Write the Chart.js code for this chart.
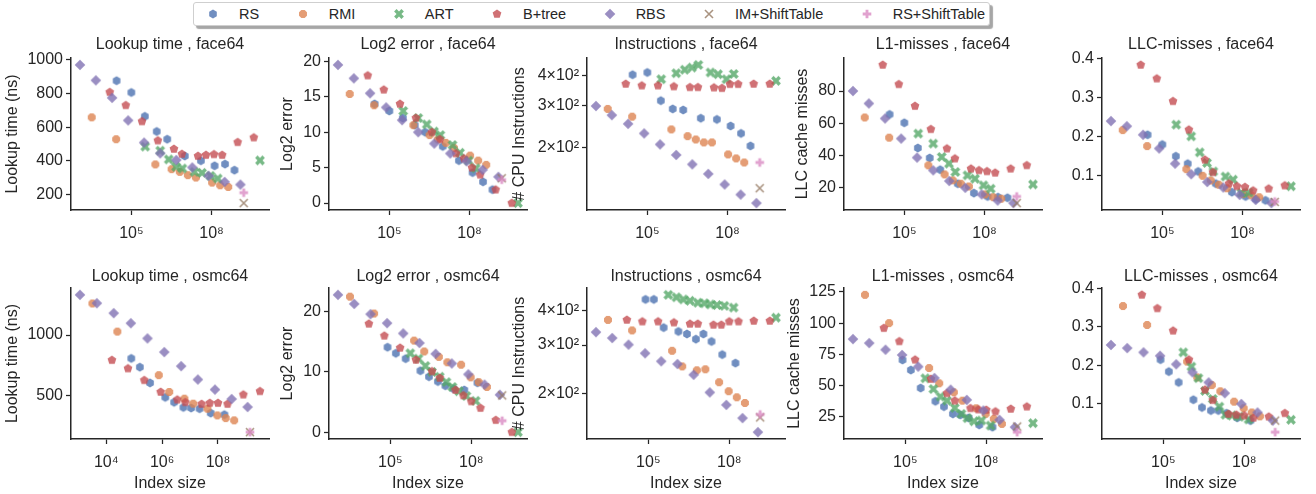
<!DOCTYPE html>
<html>
<head>
<meta charset="utf-8">
<script src="https://cdn.jsdelivr.net/npm/chart.js@4.4.0/dist/chart.umd.min.js"></script>
<style>
  body { margin: 0; width: 1316px; height: 494px; position: relative; overflow: hidden; background: #fff;
         font-family: "Liberation Sans", Arial, sans-serif; color: #262626; }
  canvas.panel { position: absolute; }
  #legend { position: absolute; left: 193px; top: 2px; height: 22px; display: flex; align-items: center;
            padding: 0 4px 0 9px; border: 1px solid #cfcfcf; border-radius: 3px; background: #fff;
            box-shadow: 3px 3px 1px rgba(0, 0, 0, 0.35); font-size: 14.5px; white-space: nowrap; }
  .item { display: flex; align-items: center; margin-right: 33.5px; }
  .item:last-child { margin-right: 0; }
  .mk { width: 20px; display: flex; justify-content: center; }
  .lbl { margin-left: 16px; }
</style>
</head>
<body>
<div id="legend"></div>
<script>
// series order everywhere: RS, RMI, ART, B+tree, RBS, IM+ShiftTable, RS+ShiftTable
const seriesNames = ['RS', 'RMI', 'ART', 'B+tree', 'RBS', 'IM+ShiftTable', 'RS+ShiftTable'];

// index sizes (x) per series
const face64X = [
  [2.8e4, 1e5, 3.2e5, 8.9e5, 2.2e6, 1e7, 4e7, 1.3e8, 3.2e8, 7.2e8],
  [3.3e3, 2.7e4, 7.9e5, 3.2e6, 6.5e6, 1.3e7, 2.6e7, 1.05e8, 2.1e8, 4.2e8],
  [3.3e5, 1.2e6, 2.5e6, 4.7e6, 8.1e6, 2.3e7, 4.4e7, 9.1e7, 1.7e8, 6.5e9],
  [1.55e4, 6.2e4, 2.5e5, 9.8e5, 3.9e6, 7.8e6, 3.1e7, 6.2e7, 1.23e8, 2.5e8, 9.5e8, 3.8e9],
  [1.2e3, 4.7e3, 1.9e4, 7.6e4, 3e5, 1.2e6, 4.8e6, 1.9e7, 7.8e7, 3.1e8, 1.2e9],
  [1.6e9],
  [1.6e9]
];
const osmc64X = [
  [7.9e4, 1.6e5, 3.7e5, 1.3e6, 2.7e6, 5.8e6, 1.1e7, 2.2e7, 5.5e7, 1.7e8],
  [3.2e3, 2.5e4, 7.6e5, 1.8e6, 6.3e6, 1.3e7, 4.2e7, 9.5e7, 1.9e8, 3.8e8],
  [5.5e5, 1.1e6, 2e6, 3.5e6, 6.8e6, 1.2e7, 2e7, 3.5e7, 6.6e7, 1.45e8, 5.4e9],
  [1.6e4, 6e4, 2.3e5, 8.9e5, 3.5e6, 6.8e6, 2.6e7, 5.1e7, 1e8, 2.2e8, 8.1e8, 3.2e9],
  [1.15e3, 4.6e3, 1.85e4, 7.6e4, 3e5, 1.2e6, 4.8e6, 1.9e7, 7.8e7, 3.1e8, 1.15e9],
  [1.4e9],
  [1.4e9]
];

// face64 values
const face64Lookup = [
  [876, 806, 664, 574, 528, 428, 400, 370, 380, 344],
  [658, 528, 378, 350, 334, 314, 300, 270, 254, 244],
  [484, 460, 408, 364, 354, 334, 328, 310, 294, 402],
  [808, 730, 634, 520, 470, 440, 428, 434, 438, 434, 510, 538],
  [970, 878, 774, 640, 508, 444, 404, 360, 310, 274, 258],
  [148],
  [210]
];
const face64Log2Err = [
  [14.0, 13.0, 12.0, 11.0, 10.0, 8.0, 6.0, 4.3, 3.0, 1.9],
  [15.4, 13.8, 11.0, 9.6, 9.0, 8.5, 7.8, 6.7, 6.0, 5.4],
  [13.0, 12.0, 11.1, 10.1, 9.6, 8.2, 7.1, 6.0, 4.9, 0.0],
  [18.0, 16.0, 14.0, 12.0, 10.0, 9.0, 7.0, 6.3, 5.0, 4.0, 1.9, 0.0],
  [19.5, 17.6, 15.5, 13.5, 11.7, 10.0, 8.4, 7.0, 5.9, 4.7, 3.7],
  [3.5],
  [3.3]
];
const face64Instr = [
  [403, 412, 314, 290, 287, 265, 262, 246, 229, 203],
  [290, 269, 238, 223, 216, 210, 210, 187, 180, 173],
  [386, 409, 423, 432, 443, 412, 405, 386, 406, 380],
  [369, 363, 363, 360, 357, 357, 356, 354, 368, 368, 369, 369],
  [298, 273, 251, 229, 206, 186, 170, 155, 140, 127, 117],
  [135],
  [173]
];
const face64L1 = [
  [65.5, 60.3, 44.7, 38.5, 31.2, 22.5, 16.7, 14.6, 14.2, 13.8],
  [63.6, 51.1, 33.9, 28.3, 24.6, 22.5, 20.8, 15.9, 14.2, 13.2],
  [53.6, 47.4, 39.1, 35.0, 29.8, 27.7, 25.6, 21.5, 19.4, 22.1],
  [96.2, 84.2, 70.7, 56.3, 44.3, 38.1, 31.8, 30.8, 30.2, 29.3, 31.8, 33.9],
  [80.0, 72.3, 63.0, 50.5, 38.7, 30.8, 24.2, 20.0, 15.9, 12.1, 10.5],
  [10.5],
  [14.6]
];
const face64LLC = [
  [0.205, 0.180, 0.150, 0.131, 0.111, 0.080, 0.058, 0.047, 0.040, 0.037],
  [0.217, 0.176, 0.117, 0.100, 0.088, 0.077, 0.068, 0.053, 0.050, 0.045],
  [0.231, 0.201, 0.160, 0.133, 0.111, 0.098, 0.090, 0.056, 0.057, 0.073],
  [0.384, 0.349, 0.291, 0.218, 0.141, 0.109, 0.080, 0.073, 0.071, 0.062, 0.067, 0.075],
  [0.240, 0.227, 0.205, 0.170, 0.131, 0.104, 0.084, 0.070, 0.051, 0.038, 0.030],
  [0.033],
  [0.034]
];

// osmc64 values
const osmc64Lookup = [
  [807, 735, 605, 486, 445, 403, 398, 392, 356, 343],
  [1260, 1028, 669, 530, 475, 434, 392, 337, 315, 296],
  [],
  [793, 724, 627, 530, 467, 445, 431, 439, 439, 431, 508, 536],
  [1331, 1262, 1180, 1097, 972, 859, 743, 633, 550, 472, 406],
  [199],
  [199]
];
const osmc64Log2Err = [
  [14.1, 13.1, 12.2, 10.2, 9.2, 8.4, 7.7, 7.2, 7.0, 8.2],
  [22.5, 19.7, 15.2, 13.4, 12.5, 11.6, 11.2, 9.1, 8.3, 7.5],
  [13.1, 12.2, 11.0, 10.0, 9.2, 8.3, 7.5, 6.8, 6.0, 5.2, 0.0],
  [18.0, 16.0, 14.0, 12.0, 10.1, 9.0, 7.0, 6.1, 5.1, 4.0, 2.0, 0.0],
  [22.8, 21.3, 19.6, 18.1, 16.4, 14.8, 13.0, 11.4, 9.6, 7.9, 6.2],
  [6.1],
  [1.9]
];
const osmc64Instr = [
  [439, 439, 347, 336, 329, 315, 329, 309, 277, 258],
  [370, 339, 286, 251, 243, 245, 220, 204, 194, 185],
  [456, 447, 439, 434, 427, 425, 421, 419, 416, 410, 377],
  [370, 365, 365, 362, 358, 358, 355, 355, 365, 365, 367, 367],
  [334, 318, 301, 280, 262, 256, 234, 202, 182, 163, 145],
  [164],
  [168]
];
const osmc64L1 = [
  [70.5, 62.5, 48.1, 37.5, 33.2, 27.4, 26.6, 24.2, 18.6, 16.8],
  [122.6, 100.0, 64.1, 51.9, 44.7, 38.0, 31.9, 27.4, 23.4, 19.4],
  [55.9, 47.3, 41.2, 38.0, 32.2, 27.4, 24.0, 21.5, 22.1, 18.1, 20.0],
  [96.0, 85.4, 70.7, 55.3, 43.9, 38.0, 31.9, 30.9, 30.6, 29.3, 31.4, 33.2],
  [87.2, 84.0, 78.7, 74.5, 65.2, 56.1, 46.8, 38.6, 30.1, 22.6, 16.8],
  [17.3],
  [12.8]
];
const osmc64LLC = [
  [0.215, 0.184, 0.156, 0.111, 0.091, 0.083, 0.083, 0.076, 0.064, 0.057],
  [0.354, 0.305, 0.210, 0.169, 0.149, 0.133, 0.106, 0.089, 0.078, 0.068],
  [0.234, 0.197, 0.167, 0.134, 0.113, 0.093, 0.072, 0.070, 0.067, 0.060, 0.059],
  [0.383, 0.348, 0.290, 0.215, 0.137, 0.110, 0.074, 0.072, 0.070, 0.064, 0.067, 0.076],
  [0.253, 0.245, 0.234, 0.225, 0.203, 0.182, 0.156, 0.128, 0.100, 0.078, 0.057],
  [0.057],
  [0.027]
];

// tick values and labels
const xTicksWide = [1e5, 1e8];
const xTicksOsmcLookup = [1e4, 1e6, 1e8];
const yTicksLookupFace = [200, 400, 600, 800, 1000];
const yTicksLookupOsmc = [500, 1000];
const yTicksLog2Face = [0, 5, 10, 15, 20];
const yTicksLog2Osmc = [0, 10, 20];
const yTicksInstr = [200, 300, 400];
const yLabelsInstr = ['2×10²', '3×10²', '4×10²'];
const yTicksL1Face = [20, 40, 60, 80];
const yTicksL1Osmc = [25, 50, 75, 100, 125];
const yTicksLLC = [0.1, 0.2, 0.3, 0.4];

// styles
const colors = ['#4C72B0', '#DD8452', '#55A868', '#C44E52', '#8172B3', '#937860', '#DA8BC3'];
const shapes = ['hexagon', 'octagon', 'xfilled', 'pentagon', 'diamond', 'x', 'plus'];
const ink = '#262626';
const fontFamily = '"Liberation Sans", Arial, sans-serif';

function polyPts(n, r, startDeg) {
  const pts = [];
  for (let k = 0; k < n; k++) {
    const a = (startDeg + k * 360 / n) * Math.PI / 180;
    pts.push([r * Math.cos(a), r * Math.sin(a)]);
  }
  return pts;
}

function plusPts(r, rotate) {
  const base = [[-1, -3], [1, -3], [1, -1], [3, -1], [3, 1], [1, 1], [1, 3], [-1, 3], [-1, 1], [-3, 1], [-3, -1], [-1, -1]];
  const a = rotate ? Math.PI / 4 : 0;
  return base.map(([x, y]) => {
    const sx = x * r / 3, sy = y * r / 3;
    return [sx * Math.cos(a) - sy * Math.sin(a), sx * Math.sin(a) + sy * Math.cos(a)];
  });
}

function makeMarker(shape, color) {
  const s = 14;
  const c = document.createElement('canvas');
  c.width = s; c.height = s;
  const g = c.getContext('2d');
  g.translate(s / 2, s / 2);
  g.globalAlpha = 0.8;
  g.fillStyle = color;
  g.strokeStyle = color;
  g.beginPath();
  if (shape === 'x') {
    g.lineWidth = 1.6;
    g.moveTo(-4, -4); g.lineTo(4, 4);
    g.moveTo(4, -4); g.lineTo(-4, 4);
    g.stroke();
    return c;
  }
  let pts;
  if (shape === 'hexagon') pts = polyPts(6, 4.4, -90);
  else if (shape === 'octagon') pts = polyPts(8, 4.3, 22.5);
  else if (shape === 'pentagon') pts = polyPts(5, 4.6, -90);
  else if (shape === 'diamond') pts = polyPts(4, 5.3, -90);
  else if (shape === 'xfilled') pts = plusPts(5.2, true);
  else pts = plusPts(4.3, false);
  pts.forEach(([x, y], i) => (i ? g.lineTo(x, y) : g.moveTo(x, y)));
  g.closePath();
  g.fill();
  return c;
}

const SUP = { 0: '⁰', 1: '¹', 2: '²', 3: '³', 4: '⁴', 5: '⁵', 6: '⁶', 7: '⁷', 8: '⁸', 9: '⁹' };
function powLabel(v) {
  return '10' + String(Math.round(Math.log10(v))).split('').map(d => SUP[d]).join('');
}

// matplotlib-like autoscale: 5% margins
function limits(vals, log) {
  const v = log ? vals.map(Math.log10) : vals;
  const lo = Math.min(...v), hi = Math.max(...v), m = (hi - lo) * 0.05;
  return log ? [10 ** (lo - m), 10 ** (hi + m)] : [lo - m, hi + m];
}

const rows = [
  { top: 30, height: 215, padTop: 5.4, padBottom: 3.4, xAxisH: 35, xTitle: false },
  { top: 262, height: 232, padTop: 5.4, padBottom: 1.4, xAxisH: 55, xTitle: true }
];

const panels = [
  { row: 0, left: 1, axisW: 70, title: 'Lookup time , face64', yTitle: 'Lookup time (ns)', xs: face64X, ys: face64Lookup, xTicks: xTicksWide, yTicks: yTicksLookupFace },
  { row: 0, left: 276, axisW: 53, title: 'Log2 error , face64', yTitle: 'Log2 error', xs: face64X, ys: face64Log2Err, xTicks: xTicksWide, yTicks: yTicksLog2Face },
  { row: 0, left: 508, axisW: 79, title: 'Instructions , face64', yTitle: '# CPU Instructions', xs: face64X, ys: face64Instr, xTicks: xTicksWide, yTicks: yTicksInstr, yLabels: yLabelsInstr, yLog: true },
  { row: 0, left: 791, axisW: 53, title: 'L1-misses , face64', yTitle: 'LLC cache misses', xs: face64X, ys: face64L1, xTicks: xTicksWide, yTicks: yTicksL1Face },
  { row: 0, left: 1050, axisW: 52, title: 'LLC-misses , face64', yTitle: '', xs: face64X, ys: face64LLC, xTicks: xTicksWide, yTicks: yTicksLLC },
  { row: 1, left: 1, axisW: 70, title: 'Lookup time , osmc64', yTitle: 'Lookup time (ns)', xs: osmc64X, ys: osmc64Lookup, xTicks: xTicksOsmcLookup, yTicks: yTicksLookupOsmc },
  { row: 1, left: 276, axisW: 53, title: 'Log2 error , osmc64', yTitle: 'Log2 error', xs: osmc64X, ys: osmc64Log2Err, xTicks: xTicksWide, yTicks: yTicksLog2Osmc },
  { row: 1, left: 508, axisW: 79, title: 'Instructions , osmc64', yTitle: '# CPU Instructions', xs: osmc64X, ys: osmc64Instr, xTicks: xTicksWide, yTicks: yTicksInstr, yLabels: yLabelsInstr, yLog: true },
  { row: 1, left: 783, axisW: 61, title: 'L1-misses , osmc64', yTitle: 'LLC cache misses', xs: osmc64X, ys: osmc64L1, xTicks: xTicksWide, yTicks: yTicksL1Osmc },
  { row: 1, left: 1050, axisW: 52, title: 'LLC-misses , osmc64', yTitle: '', xs: osmc64X, ys: osmc64LLC, xTicks: xTicksWide, yTicks: yTicksLLC }
];

const markers = shapes.map((s, i) => makeMarker(s, colors[i]));
const PLOT_W = 204;
const font = { family: fontFamily, size: 16, weight: 'normal' };

panels.forEach(p => {
  const r = rows[p.row];
  const cv = document.createElement('canvas');
  cv.className = 'panel';
  cv.width = p.axisW + PLOT_W;
  cv.height = r.height;
  cv.style.left = p.left + 'px';
  cv.style.top = r.top + 'px';
  document.body.appendChild(cv);

  const allX = p.xs.flatMap((xs, i) => p.ys[i].length ? xs : []);
  const allY = p.ys.flat();
  const xr = limits(allX, true);
  const yr = limits(allY, !!p.yLog);

  const datasets = seriesNames.map((name, i) => ({
    label: name,
    data: p.ys[i].map((y, j) => ({ x: p.xs[i][j], y })),
    pointStyle: markers[i],
    pointRadius: 5,
    pointHoverRadius: 5,
    order: seriesNames.length - i
  }));

  new Chart(cv, {
    type: 'scatter',
    data: { datasets },
    options: {
      responsive: false,
      animation: false,
      devicePixelRatio: 1,
      layout: { padding: 0 },
      events: [],
      plugins: {
        legend: { display: false },
        tooltip: { enabled: false },
        title: {
          display: true, text: p.title, fullSize: false, color: ink, font,
          padding: { top: r.padTop, bottom: r.padBottom }
        }
      },
      scales: {
        x: {
          type: 'logarithmic', min: xr[0], max: xr[1],
          afterBuildTicks: s => { s.ticks = p.xTicks.map(v => ({ value: v })); },
          afterFit: s => { s.height = r.xAxisH; },
          ticks: { callback: v => powLabel(v), color: ink, font, padding: 9, maxRotation: 0, autoSkip: false },
          grid: { drawOnChartArea: false, drawTicks: true, tickLength: 5, tickColor: ink, tickWidth: 1.25 },
          border: { display: true, color: ink, width: 1.5 },
          title: { display: r.xTitle, text: 'Index size', color: ink, font, padding: { top: 0, bottom: 0.5 } }
        },
        y: {
          type: p.yLog ? 'logarithmic' : 'linear', min: yr[0], max: yr[1],
          afterBuildTicks: s => { s.ticks = p.yTicks.map(v => ({ value: v })); },
          afterFit: s => { s.width = p.axisW; },
          ticks: {
            callback: (v, i) => (p.yLabels ? p.yLabels[i] : String(p.yTicks[i])),
            color: ink, font, padding: 3, autoSkip: false
          },
          grid: { drawOnChartArea: false, drawTicks: true, tickLength: 5, tickColor: ink, tickWidth: 1.25 },
          border: { display: true, color: ink, width: 1.5 },
          title: { display: !!p.yTitle, text: p.yTitle, color: ink, font, padding: { top: 2.4, bottom: 0 } }
        }
      }
    }
  });
});

// figure legend
const legend = document.getElementById('legend');
seriesNames.forEach((name, i) => {
  const item = document.createElement('div');
  item.className = 'item';
  const mk = document.createElement('span');
  mk.className = 'mk';
  mk.appendChild(makeMarker(shapes[i], colors[i]));
  const lbl = document.createElement('span');
  lbl.className = 'lbl';
  lbl.textContent = name;
  item.appendChild(mk);
  item.appendChild(lbl);
  legend.appendChild(item);
});
</script>
</body>
</html>
